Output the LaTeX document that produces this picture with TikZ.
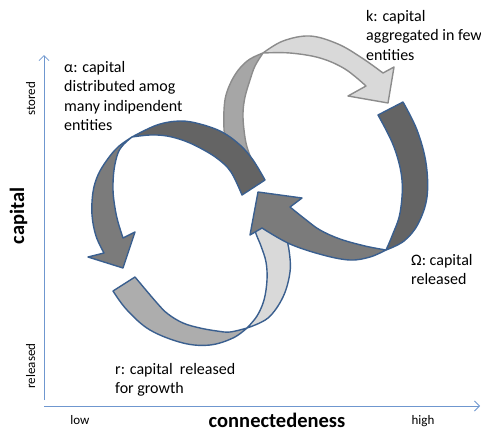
\documentclass[tikz,border=0pt]{standalone}
\usepackage{fontspec}
\setmainfont{Carlito}
\usetikzlibrary{arrows.meta}
\definecolor{rim}{HTML}{3A5F8F}
\definecolor{greyrim}{HTML}{8C8C8C}
\definecolor{bandA}{HTML}{646464}
\definecolor{bandB}{HTML}{7B7B7B}
\definecolor{bandC}{HTML}{A6A6A6}
\definecolor{bandD}{HTML}{D9D9D9}
\definecolor{bandE}{HTML}{ADADAD}
\definecolor{axiscol}{HTML}{6F97CF}
% left-aligned stack of lines whose baseline is the first line
\newcommand{\linestack}[1]{\vtop{\baselineskip=19.2pt\lineskiplimit=-20pt\halign{##\hfil\cr#1\crcr}}}
\begin{document}
\begin{tikzpicture}[x=1pt,y=-1pt,
  band/.style={draw=rim, line width=1.4pt, line join=round},
  kband/.style={draw=greyrim, line width=1.4pt, line join=round},
  axisline/.style={draw=axiscol, line width=0.8pt, -{Straight Barb[length=5pt,width=10pt]}},
  lbl/.style={inner sep=0pt, anchor=base west, font=\fontsize{16}{19.2}\selectfont},
  ticklbl/.style={inner sep=0pt, anchor=base, font=\fontsize{13}{15}\selectfont},
  axistitle/.style={inner sep=0pt, anchor=base, font=\fontsize{20.5}{24}\selectfont\bfseries},
  sm/.style={smooth, tension=0.6},
]
\useasboundingbox (0,0) rectangle (481,434);

% axes
\coordinate (yb) at (44,400);
\coordinate (yt) at (44,55);
\coordinate (xl) at (44,406);
\coordinate (xr) at (480,406);
\draw[axisline] (yb) -- (yt);
\draw[axisline] (xl) -- (xr);

\node[ticklbl, rotate=90] (stored) at (35,99) {stored};
\node[ticklbl, rotate=90] (rel) at (35,366) {released};
\node[axistitle, rotate=90] (cap) at (24,216) {capital};
\node[ticklbl] (low) at (80,424) {low};
\node[ticklbl] (high) at (423,424) {high};
\node[axistitle] (conn) at (277,427) {connectedeness};

% k: conservation loop (grey rim, lies under alpha)
\filldraw[kband, fill=bandC] (232,172) -- plot[sm] coordinates {(224,130) (224,110) (226,95) (232,80) (240,68) (250,59) (263,53)}
  -- plot[sm] coordinates {(263,53) (255,66) (250,80) (245,97) (243,113) (244,130) (247,147) (254,165) (261,178)} -- cycle;
\filldraw[kband, fill=bandD] (263,53) -- plot[sm] coordinates {(263,53) (283,41) (310,36) (338,44) (362,58) (383,73)}
  -- (394,67) -- (388,103) -- (348,96) -- (366,86)
  -- plot[sm] coordinates {(366,86) (345,69) (320,58) (290,53) (263,53)} -- cycle;

% alpha: reorganisation loop
\filldraw[band, fill=bandA] (265,180) -- plot[sm] coordinates {(265,180) (253,160) (240,145) (222,132) (200,124) (180,121) (157,125) (132,137)}
  -- plot[sm] coordinates {(132,137) (150,135) (167,136) (185,141) (202,149) (218,159) (231,172) (242,195)} -- cycle;
\filldraw[band, fill=bandB] (132,137) -- plot[sm] coordinates {(132,137) (118,147) (107,160) (98,175) (93,192) (92,215) (96,236) (104,253)}
  -- (88,257) -- (123,268) -- (135,232) -- (123,238)
  -- plot[sm] coordinates {(123,238) (118,222) (115,208) (113,190) (114,170) (118,153) (124,144) (132,137)} -- cycle;

% r: growth loop
\filldraw[band, fill=bandE] (113,291) -- plot[sm] coordinates {(113,291) (127,310) (150,330) (183,343) (210,345) (233,338) (247,328)}
  -- plot[sm] coordinates {(247,328) (230,332) (217,331) (200,328) (183,323) (168,314) (157,303) (135,277)} -- cycle;
\filldraw[band, fill=bandD] (247,328) -- plot[sm] coordinates {(247,328) (257,316) (264,300) (267,280) (266,262) (261,246) (255,230) (256,215)}
  -- (274,208)
  -- plot[sm] coordinates {(284,228) (289,250) (290,272) (283,297) (268,318) (247,328)} -- cycle;

% Omega: release loop
\filldraw[band, fill=bandA] (378,115) -- (403,102) -- plot[sm] coordinates {(403,102) (417,130) (426,163) (427,197) (418,224) (404,241) (386,250)}
  -- plot[sm] coordinates {(386,250) (392,236) (400,213) (402,180) (394,147) (378,115)} -- cycle;
\filldraw[band, fill=bandB] (386,250) -- plot[sm] coordinates {(386,250) (370,257) (350,260) (323,255) (290,244) (262,228)}
  -- (250,235) -- (258,192) -- (302,198) -- (290,207)
  -- plot[sm] coordinates {(290,207) (305,219) (320,230) (340,239) (365,246) (386,250)} -- cycle;

% phase labels
\node[lbl] (alpha) at (64,72.7) {\linestack{α: capital\cr distributed amog\cr many indipendent\cr entities}};
\node[lbl] (kappa) at (366,21.7) {\linestack{k: capital\cr aggregated in few\cr entities}};
\node[lbl] (omega) at (411,265) {\linestack{Ω: capital\cr released}};
\node[lbl] (rr) at (115,374) {\linestack{r: capital\ \ released\cr for growth}};
\end{tikzpicture}
\end{document}
